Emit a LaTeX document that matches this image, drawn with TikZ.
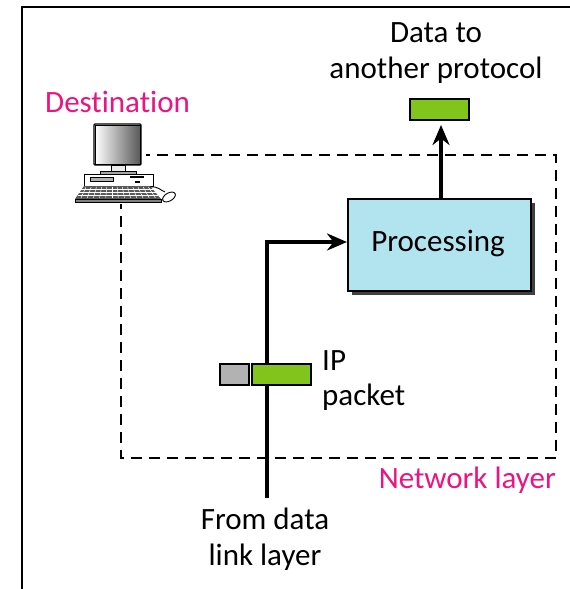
\documentclass[tikz,border=0pt]{standalone}
\usepackage{fontspec}
\setmainfont[Ligatures={NoCommon}]{Carlito}
\usetikzlibrary{arrows.meta}
\definecolor{pinkt}{RGB}{236,20,130}
\definecolor{greenb}{RGB}{128,196,28}
\definecolor{grayb}{RGB}{178,178,178}
\definecolor{blueb}{RGB}{178,228,240}
\tikzset{
 lab/.style={inner sep=0pt,font=\fontsize{31}{35.5}\selectfont,align=center},
 pk/.style={draw=black,line width=1.6pt,minimum height=21pt,inner sep=0pt,anchor=north west},
 thick line/.style={line width=3.6pt,draw=black},
 tip/.style={-{Stealth[length=20pt,width=17pt]}},
 pc/.style={draw=black,line width=0.9pt}
}
\begin{document}
\begin{tikzpicture}[x=1pt,y=-1pt]
\useasboundingbox (0,0) rectangle (570,589);
\fill[white] (0,0) rectangle (570,589);
\coordinate (fa) at (570,7); \coordinate (fb) at (22,7); \coordinate (fc) at (22,589);
\draw[line width=1.6pt] (fa) -- (fb) -- (fc);
% network layer
\coordinate (d1) at (121,155); \coordinate (d2) at (556,155); \coordinate (d3) at (556,458); \coordinate (d4) at (121,458);
\draw[line width=1.3pt,dash pattern=on 11pt off 7pt] (d1) -- (d2) -- (d3) -- (d4) -- cycle;
% computer
\fill[white] (72,122) rectangle (146,204);
\shade[left color=white,right color=black!65,pc] (95,125) rectangle (140,164);
\draw[pc,line width=1.3pt,rounded corners=1pt] (94,124) rectangle (141,165);
\draw[pc,fill=black!8] (111,165) rectangle (125,171);
\draw[pc,fill=black!35] (100,171) rectangle (136,174);
\draw[pc,fill=white] (84,174) rectangle (153,186);
\draw[pc,fill=black!30] (90,177) rectangle (113,181);
\fill (130,175.5) rectangle (144,177.5);
\fill (135,181) rectangle (140,183);
\fill[black!65] (84,186) -- (150,186) -- (161,199) -- (75,199) -- cycle;
\draw[pc,fill=black!50] (75,199) rectangle (161,202);
\foreach \i in {0,...,12}{\draw[white,line width=0.5pt] ({86+\i*5.2},187) -- ({81+\i*6.2},198);}
\foreach \j in {189.5,192.5,195.5}{\draw[white,line width=0.5pt] (78,\j) -- (158,\j);}
\draw[pc] (150,187) .. controls (158,186) and (160,190) .. (165,192);
\draw[pc,fill=white,rotate around={30:(169,197)}] (169,197) ellipse (7pt and 4pt);
% processing
\fill[black!75] (352,203) rectangle (535,295);
\node[draw=black,line width=1.6pt,fill=blueb,minimum width=183pt,minimum height=92pt,inner sep=0pt,anchor=north west,lab] (proc) at (347,198) {};
\node[lab] at (438,243) {Processing};
% arrows
\coordinate (in) at (267,498);
\coordinate (bend) at (267,242);
\draw[thick line,tip] (in) -- (bend) -- (proc.west |- bend);
% packet
\node[pk,fill=grayb,minimum width=29pt] (hdr) at (219,363) {};
\node[pk,fill=greenb,minimum width=59pt] (pay) at (251,363) {};
% output
\node[pk,fill=greenb,minimum width=59pt] (out) at (409,98) {};
\coordinate (pout) at (441,198);
\draw[thick line,tip] (pout) -- (441,125);
% labels
\node[lab] (t1) at (436,53) {Data to\\another protocol};
\node[lab,text=pinkt,anchor=west] (t2) at (45,102) {Destination};
\node[lab,anchor=north west,align=left] (t3) at (322,350) {IP\\packet};
\node[lab,text=pinkt,anchor=east] (t4) at (556,480) {Network layer};
\node[lab] (t5) at (265,539) {From data\\link layer};
\end{tikzpicture}
\end{document}
